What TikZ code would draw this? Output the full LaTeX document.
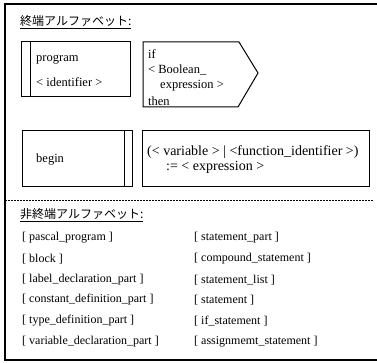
\documentclass[tikz,border=0pt]{standalone}
\usepackage{fontspec}
\setmainfont{Liberation Serif}
\newfontfamily\jpfont{Noto Sans CJK JP}
\begin{document}
\begin{tikzpicture}[x=1pt,y=-1pt,
  txt/.style={anchor=west,inner sep=0pt,font=\fontsize{12}{14}\selectfont},
  btxt/.style={anchor=west,inner sep=0pt,font=\fontsize{12.5}{14}\selectfont},
  atxt/.style={anchor=west,inner sep=0pt,font=\fontsize{14}{16}\selectfont},
  head/.style={anchor=west,inner sep=0pt,font=\jpfont\fontsize{12}{14}\selectfont},
  boxline/.style={line width=1pt},
  frameline/.style={line width=1.3pt}]
\useasboundingbox (0,0) rectangle (377,363);
% outer frame (open on the right)
\draw[frameline] (377,4) -- (5,4) -- (5,360) -- (377,360);
% separator
\draw[line width=0.8pt, dash pattern=on 2pt off 1pt] (5,200) -- (373,200);
% headings
\node[head] (h1) at (20,22) {\underline{終端アルファベット:}};
\node[head] (h2) at (20,215) {\underline{非終端アルファベット:}};
% program box
\draw[boxline] (21,42) rectangle (130,97);
\draw[boxline] (30,42) -- (30,97);
\node[btxt] (prog) at (36,60) {program};
\node[btxt] (ident) at (36,82) {< identifier >};
% if box
\draw[boxline] (143,42) -- (239,42) -- (258,73) -- (238,107) -- (143,107) -- cycle;
\node[btxt] (if) at (148,54) {if};
\node[btxt] (bool) at (148,70) {< Boolean\_};
\node[btxt] (expr) at (160,86) {expression >};
\node[btxt] (then) at (148,101) {then};
% begin box
\draw[boxline] (22,131) rectangle (132,187);
\draw[boxline] (124,131) -- (124,187);
\node[btxt] (begin) at (36,160) {begin};
% assignment box
\draw[boxline] (142,131) rectangle (369,187);
\node[atxt] (asg1) at (147,152) {(< variable > | <function\_identifier >)};
\node[atxt] (asg2) at (166,167) {:= < expression >};
% nonterminals left
\node[txt] (n1) at (22,238) {[ pascal\_program ]};
\node[txt] (n2) at (22,259) {[ block ]};
\node[txt] (n3) at (22,280) {[ label\_declaration\_part ]};
\node[txt] (n4) at (22,300) {[ constant\_definition\_part ]};
\node[txt] (n5) at (22,321) {[ type\_definition\_part ]};
\node[txt] (n6) at (22,342) {[ variable\_declaration\_part ]};
% nonterminals right
\node[txt] (m1) at (194,238) {[ statement\_part ]};
\node[txt] (m2) at (194,259) {[ compound\_statement ]};
\node[txt] (m3) at (194,280) {[ statement\_list ]};
\node[txt] (m4) at (194,300) {[ statement ]};
\node[txt] (m5) at (194,321) {[ if\_statement ]};
\node[txt] (m6) at (194,342) {[ assignmemt\_statement ]};
\end{tikzpicture}
\end{document}
